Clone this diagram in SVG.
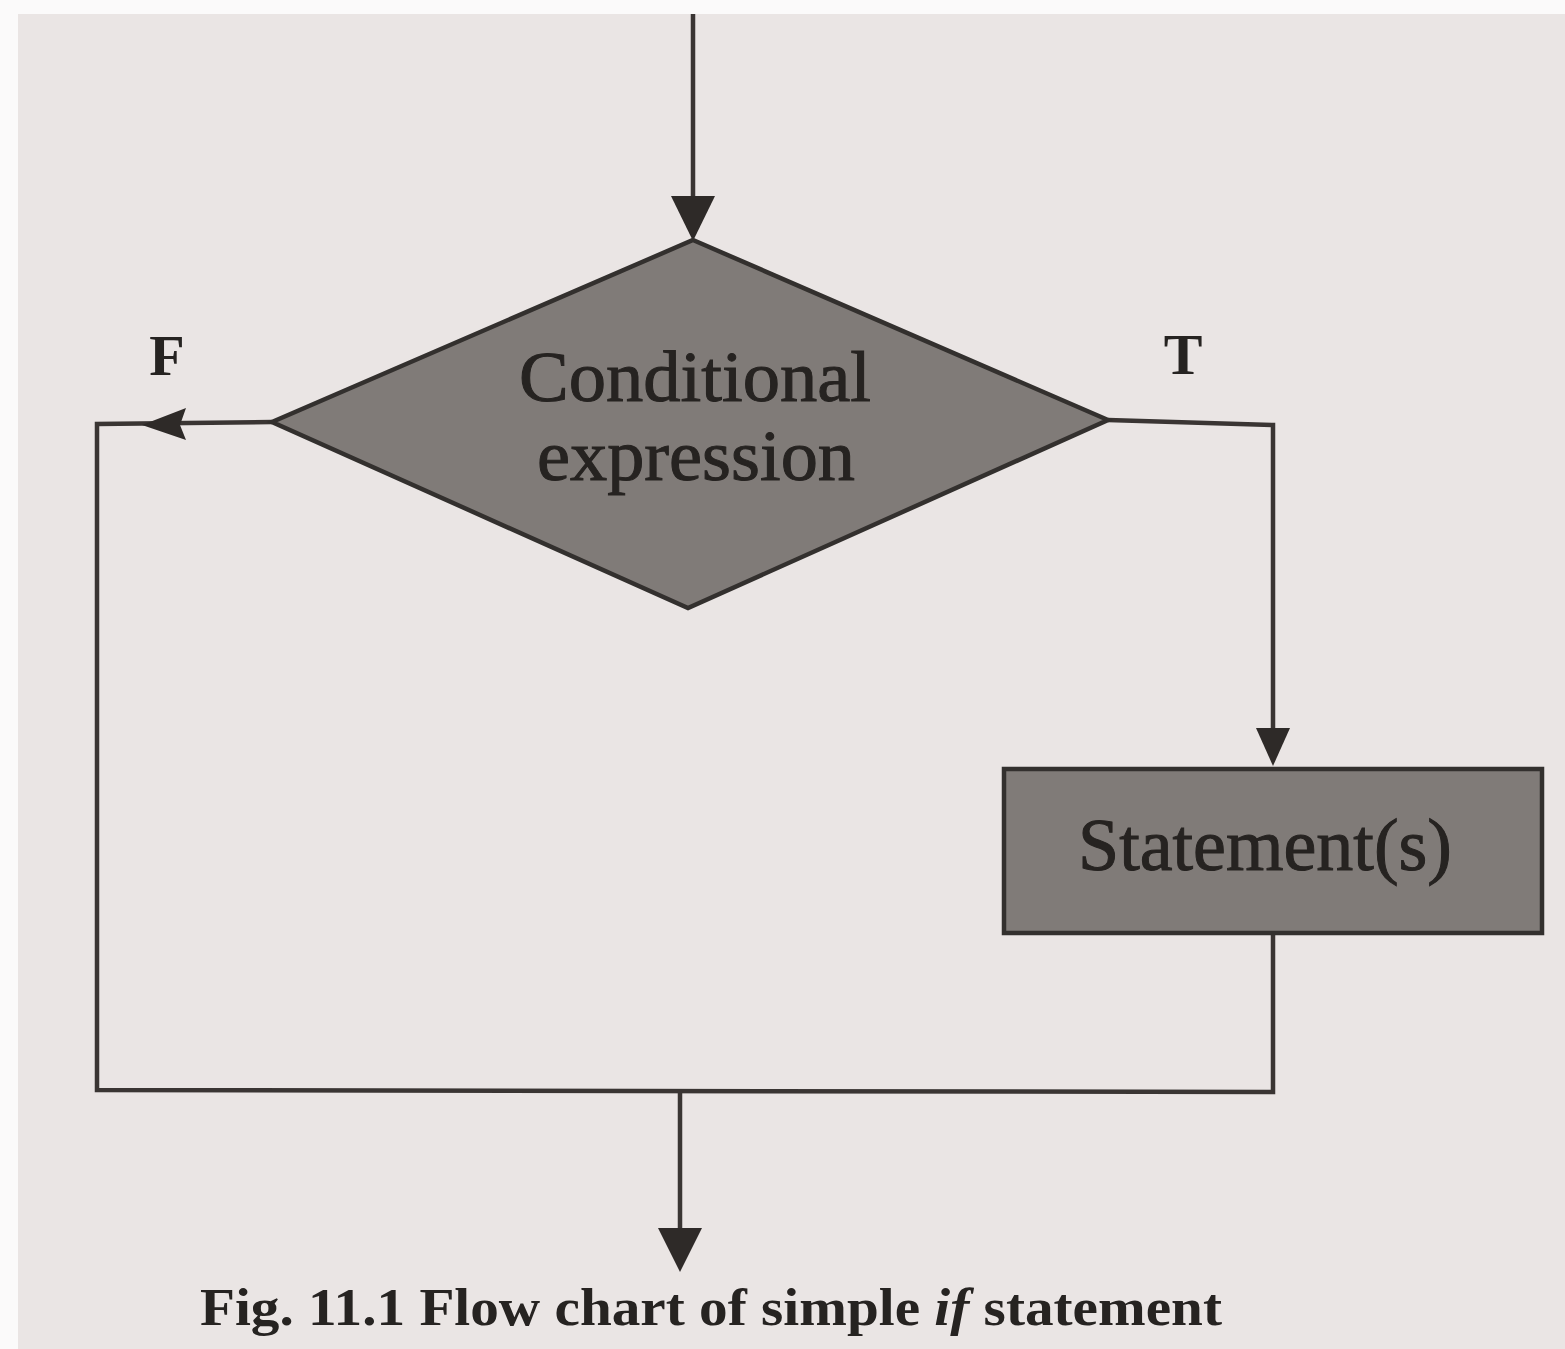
<svg xmlns="http://www.w3.org/2000/svg" width="1565" height="1349" viewBox="0 0 1565 1349">
<style>
.ln{fill:none;stroke:#3a3533;stroke-width:4.5;stroke-linejoin:miter}
.ah{fill:#2e2a28;stroke:none}
.shape{fill:#807b78;stroke:#33302e;stroke-width:4.5}
.lbl{font-family:"Liberation Serif","Times New Roman",serif;fill:#262321}
.heavy{stroke:#262321;stroke-width:1}
</style>
<rect x="0" y="0" width="1565" height="1349" fill="#fbfafa"/>
<rect x="18" y="14" width="1547" height="1335" fill="#eae5e4"/>
<g id="connectors">
<line class="ln" x1="693" y1="14" x2="693" y2="205"/>
<polygon class="ah" points="671,196 715,196 693,241"/>
<polyline class="ln" points="272,422 97,424 97,1090 1273,1092 1273,933"/>
<polygon class="ah" points="142,425 186,408 180,425 186,440"/>
<polyline class="ln" points="1108,420 1273,425 1273,735"/>
<polygon class="ah" points="1256,728 1290,728 1273,766"/>
<line class="ln" x1="680" y1="1091" x2="680" y2="1235"/>
<polygon class="ah" points="658,1228 702,1228 680,1272"/>
</g>
<g id="decision">
<polygon class="shape" points="693,240 1108,420 688,608 272,422"/>
<text class="lbl heavy" x="695" y="401" font-size="72" text-anchor="middle" textLength="352" lengthAdjust="spacingAndGlyphs">Conditional</text>
<text class="lbl heavy" x="696" y="480" font-size="72" text-anchor="middle" textLength="318" lengthAdjust="spacingAndGlyphs">expression</text>
</g>
<g id="statement">
<rect class="shape" x="1004" y="769" width="538" height="164"/>
<text class="lbl heavy" x="1265" y="870" font-size="74" text-anchor="middle" textLength="374" lengthAdjust="spacingAndGlyphs">Statement(s)</text>
</g>
<g id="label-f">
<text class="lbl" x="167" y="375" font-size="58" font-weight="bold" text-anchor="middle">F</text>
</g>
<g id="label-t">
<text class="lbl" x="1183" y="374" font-size="58" font-weight="bold" text-anchor="middle">T</text>
</g>
<g id="caption">
<text class="lbl" x="200" y="1325" font-size="52" font-weight="bold" textLength="1022" lengthAdjust="spacingAndGlyphs">Fig. 11.1 Flow chart of simple <tspan font-style="italic">if</tspan> statement</text>
</g>
</svg>
